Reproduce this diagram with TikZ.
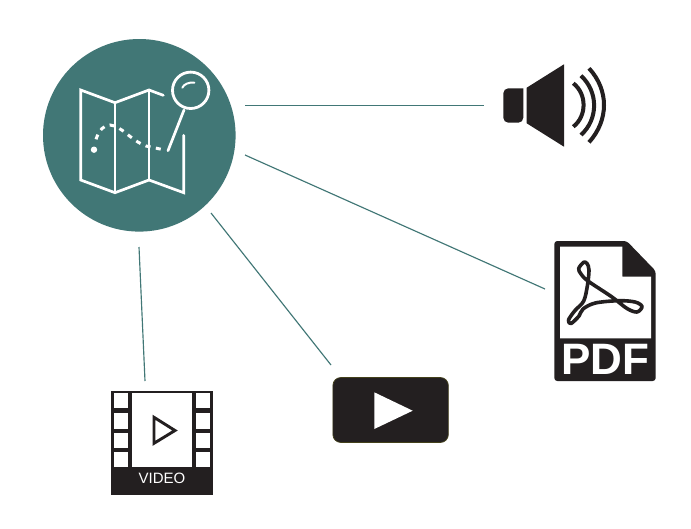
\documentclass[tikz,border=0pt]{standalone}
\usepackage{fontspec}
\setmainfont{Liberation Sans}
\definecolor{teal1}{HTML}{417776}
\definecolor{ink}{HTML}{231F20}
\begin{document}
\begin{tikzpicture}[x=1pt,y=-1pt,
  link/.style={draw=teal1,line width=1.15pt},
  mapline/.style={draw=white,line width=2.7pt,line join=miter,line cap=round},
  cell/.style={fill=white,draw=none},
  label/.style={text=white,inner sep=0pt,outer sep=0pt}]
\useasboundingbox (0,0) rectangle (691,528);
\fill[white] (0,0) rectangle (691,528);
% hub
\node[circle,fill=teal1,draw=none,minimum size=192.6pt,inner sep=0pt] (hub) at (139.3,135.3) {};
\draw[mapline] (163.3,95.3) -- (149,90) -- (115,102.7) -- (80.7,90) -- (80.7,180) -- (115,192.7) -- (149,180) -- (183.7,192.7) -- (183.7,135.3);
\draw[mapline] (115,102.7) -- (115,192.7);
\draw[mapline] (149,90) -- (149,180);
\draw[mapline,line width=2.8pt] (190.7,90.3) circle (18.2);
\draw[mapline] (184,110) -- (168,150.7);
\draw[mapline,line width=2pt] (182.3,87.7) .. controls (184,84) and (189,82) .. (194.3,82.7);
\fill[white] (94,149.7) circle (3.2);
\draw[white,line width=3pt,dash pattern=on 5pt off 5.5pt]
  (96,139.3) .. controls (99,130) and (104,125) .. (110,125) .. controls (122,126) and (130,140) .. (146,146) -- (166,150.3);
% speaker
\fill[ink,rounded corners=5pt] (523.3,88.3) -- (503.3,88.3) -- (503.3,122.7) -- (523.3,122.7) [sharp corners] -- cycle;
\fill[ink] (526.7,87.7) -- (564,64.3) -- (564,146.7) -- (526.7,123.3) -- cycle;
\draw[ink,line width=4pt] (573.3,83.3) .. controls (587,94) and (587,116) .. (573.3,126.7);
\draw[ink,line width=4pt] (581,75.7) .. controls (598.5,92) and (598.5,119) .. (581,135);
\draw[ink,line width=4pt] (589,68.3) .. controls (609,90) and (609,120) .. (589,142.3);
% pdf
\fill[ink,rounded corners=3pt] (554.3,241) -- (626.7,241) -- (655.7,271) -- (655.7,381) -- (554.3,381) -- cycle;
\fill[white] (560,246.7) -- (622.3,246.7) -- (622.3,276.7) -- (651,276.7) -- (651,338.3) -- (560,338.3) -- cycle;
\draw[ink,line width=3.6pt,line join=round] plot[smooth cycle,tension=0.55] coordinates {
 (583.7,262.3) (578.7,268.5) (581,274) (588,281) (612,297) (627,308.5) (637,312) (642,306.5) (635,302) (618.7,300.7) (595.3,303) (583,309) (579,316) (571,323.5) (568.5,320) (575,310.5) (583.7,301) (587.5,285) (589,270) (587,263.5)};
\node[label,font=\fontsize{44}{44}\selectfont\bfseries] (pdftext) at (605,359) {PDF};
% video
\fill[ink] (111,390.7) rectangle (212.7,495);
\fill[cell] (132.3,393.3) rectangle (191.7,467.3);
\foreach \a/\b in {393.3/408.3,412.7/429.3,432.7/448.3,451.7/467.3}{
  \fill[cell] (114.3,\a) rectangle (128.3,\b);
  \fill[cell] (195.7,\a) rectangle (210,\b);
}
\draw[ink,line width=2.9pt,miter limit=10] (154,417.3) -- (175,430.5) -- (154,443.3) -- cycle;
\node[label,font=\fontsize{15}{15}\selectfont] (videotext) at (162,478.7) {VIDEO};
% play
\node[draw=ink!85!yellow,line width=0.7pt,fill=ink,rounded corners=8pt,minimum width=115.5pt,minimum height=65pt,inner sep=0pt] (play) at (390.6,410) {};
\fill[white] (374.3,392.3) -- (412.7,410.7) -- (374.3,429) -- cycle;
% connectors
\coordinate (h1) at (245,105.5); \coordinate (e1) at (484,105.5);
\coordinate (h2) at (245,155); \coordinate (e2) at (545,289);
\coordinate (h3) at (211,213); \coordinate (e3) at (331,365);
\coordinate (h4) at (139,247); \coordinate (e4) at (145,381);
\draw[link] (h1) -- (e1);
\draw[link] (h2) -- (e2);
\draw[link] (h3) -- (e3);
\draw[link] (h4) -- (e4);
\end{tikzpicture}
\end{document}
